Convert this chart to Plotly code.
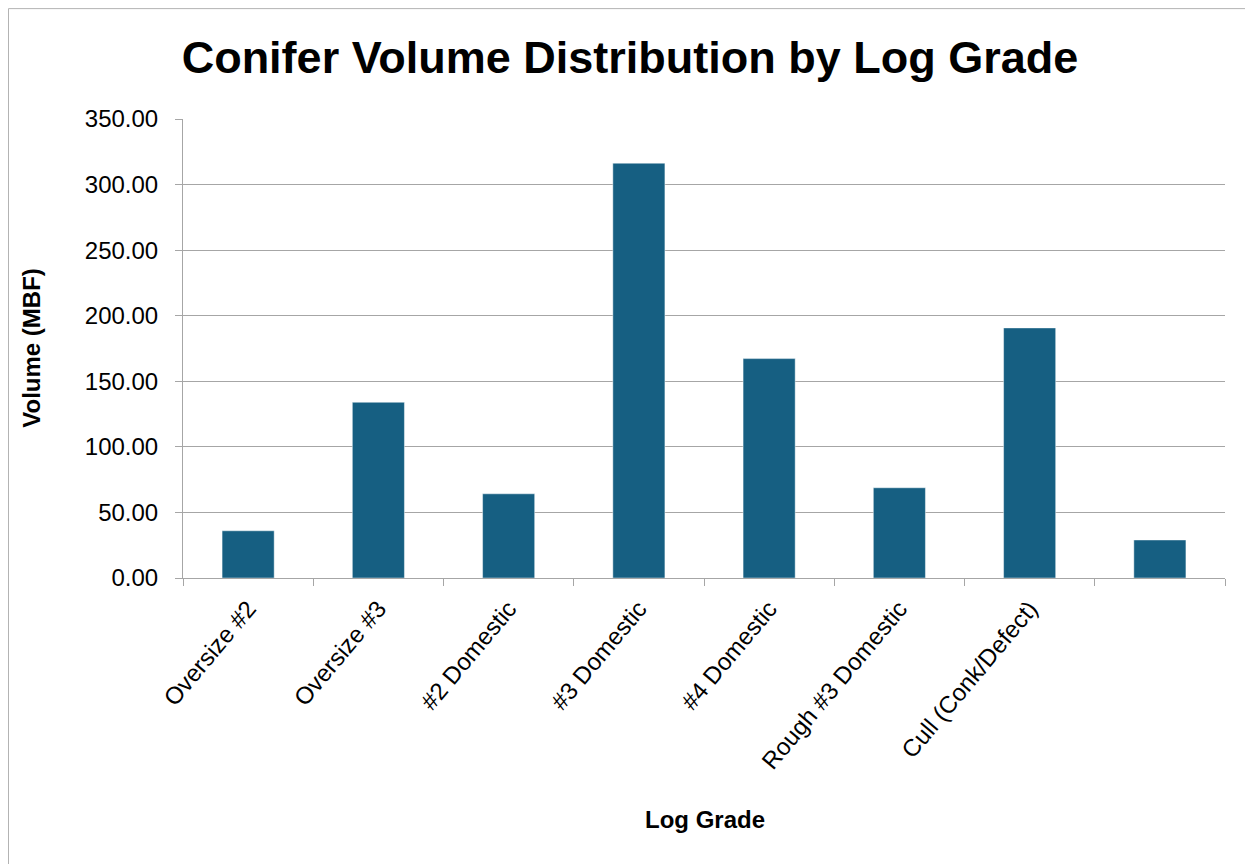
import plotly.graph_objects as go

categories = ["Oversize #2", "Oversize #3", "#2 Domestic", "#3 Domestic",
              "#4 Domestic", "Rough #3 Domestic", "Cull (Conk/Defect)", " "]
volumes = [36.0, 134.0, 64.2, 316.3, 167.3, 68.8, 190.7, 29.0]
y_ticks = [0, 50, 100, 150, 200, 250, 300, 350]

# page offset (browser body margin)
OFF = 8
W, H = 1253 - OFF, 864 - OFF
L, R, T, B = 183 - OFF, 1225 - OFF, 119 - OFF, 578.5 - OFF
pw, ph = R - L, B - T


def px_x(x):
    return (x - OFF - L) / pw


def px_y(y):
    return (B - (y - OFF)) / ph


font_family = "Liberation Sans, Arial, sans-serif"
grid_col = "#a6a6a6"

fig = go.Figure()
fig.add_trace(go.Bar(
    x=categories, y=volumes, width=0.4,
    marker=dict(color="#165f82", line=dict(color="rgba(255,255,255,0.45)", width=1)),
))

fig.update_layout(
    width=W, height=H,
    margin=dict(l=L, r=W - R, t=T, b=H - B, autoexpand=False),
    paper_bgcolor="white", plot_bgcolor="white",
    showlegend=False,
    font=dict(family=font_family, color="#000000"),
    title=dict(text="<b>Conifer Volume Distribution by Log Grade</b>",
               x=(630 - OFF) / W, xanchor="center", y=1 - (57 - OFF) / H, yanchor="middle",
               yref="container", xref="container",
               font=dict(size=45, family=font_family, color="#000000")),
)

fig.update_xaxes(
    type="category", tickson="boundaries", ticks="outside", ticklen=7,
    tickcolor=grid_col, tickwidth=1, showline=True, linecolor=grid_col, linewidth=1,
    showgrid=False, tickangle=-50, tickfont=dict(size=24, family=font_family, color="#000000"),
    range=[-0.5, 7.5], fixedrange=True, ticklabelstandoff=6,
)
fig.update_yaxes(
    range=[0, 350], tickvals=y_ticks, ticktext=[f"{v:.2f}" for v in y_ticks],
    ticks="outside", ticklen=7, tickcolor=grid_col, tickwidth=1,
    showline=True, linecolor=grid_col, linewidth=1,
    showgrid=True, gridcolor=grid_col, gridwidth=1, zeroline=False,
    tickfont=dict(size=24, family=font_family, color="#000000"),
    ticklabelstandoff=12,
)

fig.add_annotation(text="<b>Volume (MBF)</b>", xref="paper", yref="paper",
                   x=px_x(32), y=px_y(348), xanchor="center", yanchor="middle",
                   textangle=-90, showarrow=False,
                   font=dict(size=24, family=font_family, color="#000000"))
fig.add_annotation(text="<b>Log Grade</b>", xref="paper", yref="paper",
                   x=px_x(705), y=px_y(820), xanchor="center", yanchor="middle",
                   showarrow=False,
                   font=dict(size=24, family=font_family, color="#000000"))

fig.add_shape(type="rect", xref="paper", yref="paper",
              x0=px_x(8.5), x1=px_x(1275), y0=px_y(890), y1=px_y(8.5),
              line=dict(color="#b3b3b3", width=1), fillcolor="rgba(0,0,0,0)", layer="below")

fig.write_html("out.html")
